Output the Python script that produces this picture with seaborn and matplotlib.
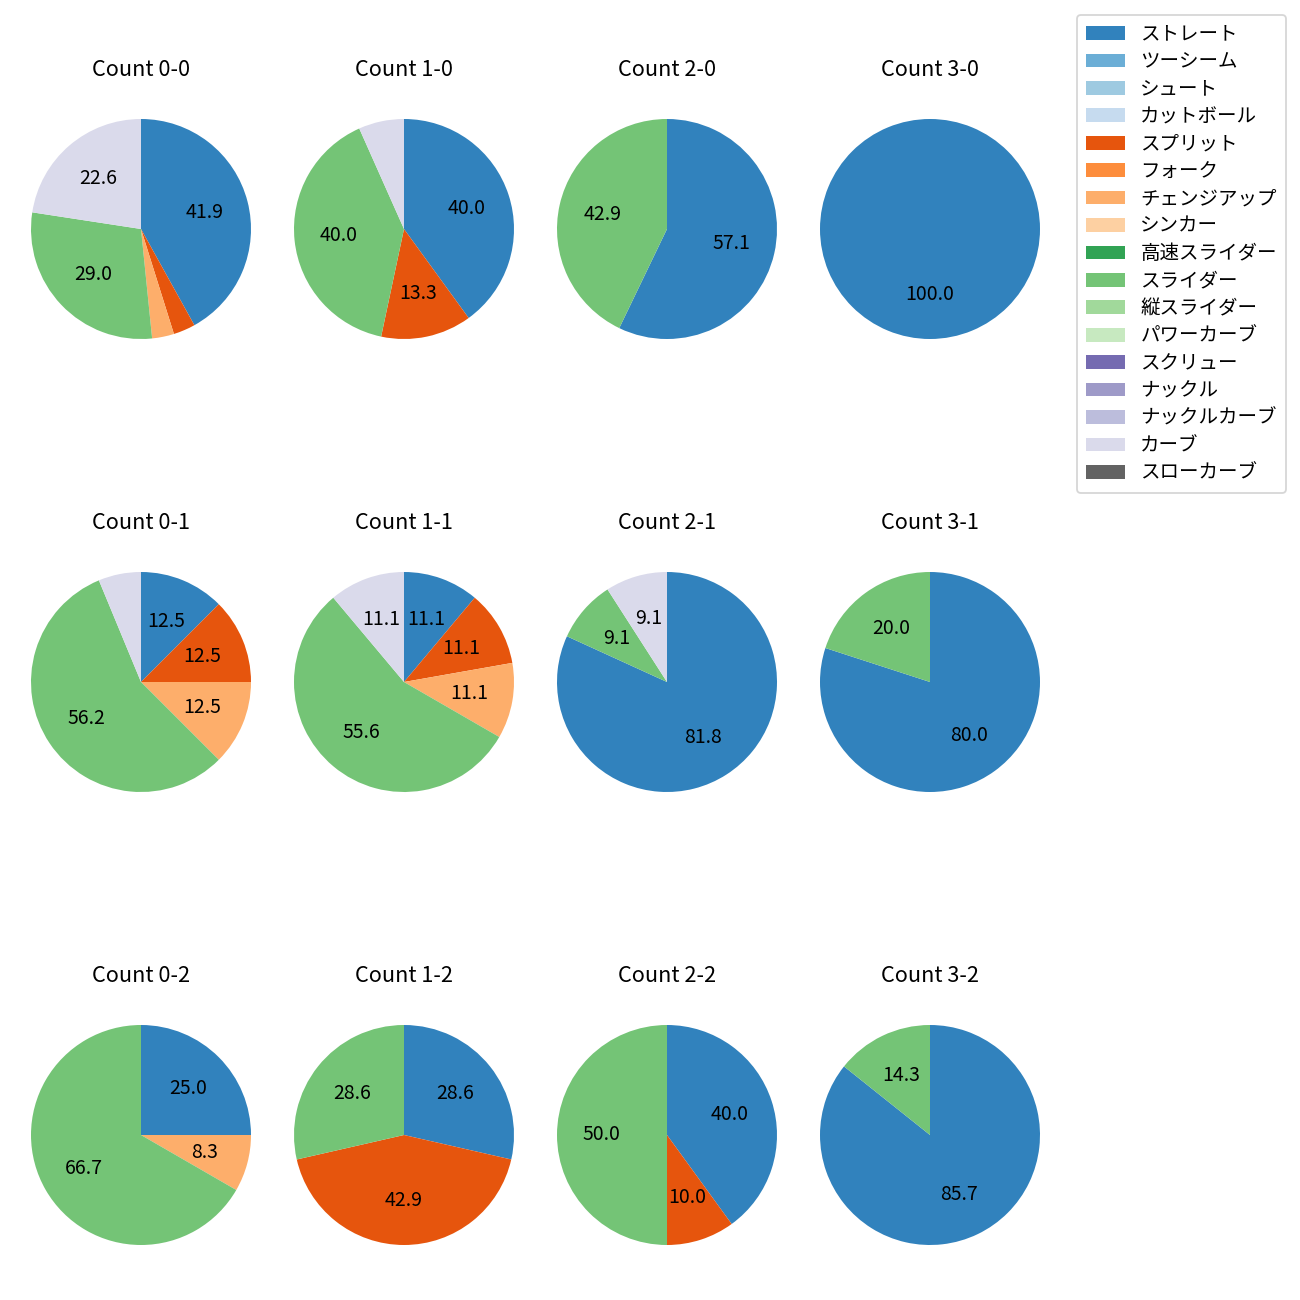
import matplotlib
matplotlib.use("Agg")
import matplotlib.pyplot as plt
from matplotlib.patches import Patch
import seaborn as sns

# 球種 (legend order)
pitch_types = ["ストレート", "ツーシーム", "シュート", "カットボール", "スプリット", "フォーク",
               "チェンジアップ", "シンカー", "高速スライダー", "スライダー", "縦スライダー",
               "パワーカーブ", "スクリュー", "ナックル", "ナックルカーブ", "カーブ", "スローカーブ"]

# ball-strike counts, drawn row by row (strikes) and column by column (balls)
counts = ["0-0", "1-0", "2-0", "3-0",
          "0-1", "1-1", "2-1", "3-1",
          "0-2", "1-2", "2-2", "3-2"]

# number of pitches per count (other pitch types are zero)
straight = [13, 6, 4, 1, 2, 1, 9, 4, 3, 2, 4, 6]
split    = [1, 2, 0, 0, 2, 1, 0, 0, 0, 3, 1, 0]
changeup = [1, 0, 0, 0, 2, 1, 0, 0, 1, 0, 0, 0]
slider   = [9, 6, 3, 0, 9, 5, 1, 1, 8, 2, 5, 1]
curve    = [7, 1, 0, 0, 1, 1, 1, 0, 0, 0, 0, 0]

plt.rcParams["font.family"] = ["Noto Sans CJK JP", "DejaVu Sans"]

colors = sns.color_palette("tab20c", 20)[:len(pitch_types)]
used = {"ストレート": straight, "スプリット": split, "チェンジアップ": changeup,
        "スライダー": slider, "カーブ": curve}

fig, axes = plt.subplots(3, 4, figsize=(10, 10), dpi=130)

col_x = [141, 404, 667, 930]
row_y = [229, 682, 1135]
side = 275

for i, cnt in enumerate(counts):
    r, c = divmod(i, 4)
    ax = axes[r, c]
    vals, cols = [], []
    for k, name in enumerate(pitch_types):
        if name in used and used[name][i] > 0:
            vals.append(used[name][i])
            cols.append(colors[k])
    ax.pie(vals, colors=cols, startangle=90, counterclock=False,
           autopct=lambda p: f"{p:.1f}" if p >= 8 else "",
           textprops={"fontsize": 10.8})
    ax.set_title(f"Count {cnt}", fontsize=12, pad=8.5)
    ax.set_position([(col_x[c] - side / 2) / 1300, 1 - (row_y[r] + side / 2) / 1300,
                     side / 1300, side / 1300])

handles = [Patch(facecolor=colors[k], label=name) for k, name in enumerate(pitch_types)]
fig.legend(handles=handles, loc="upper left", bbox_to_anchor=(1077 / 1300, 1 - 15 / 1300),
           borderaxespad=0, fontsize=10.8, labelspacing=0.33, borderpad=0.45)

fig.savefig("out.png", dpi=130)
